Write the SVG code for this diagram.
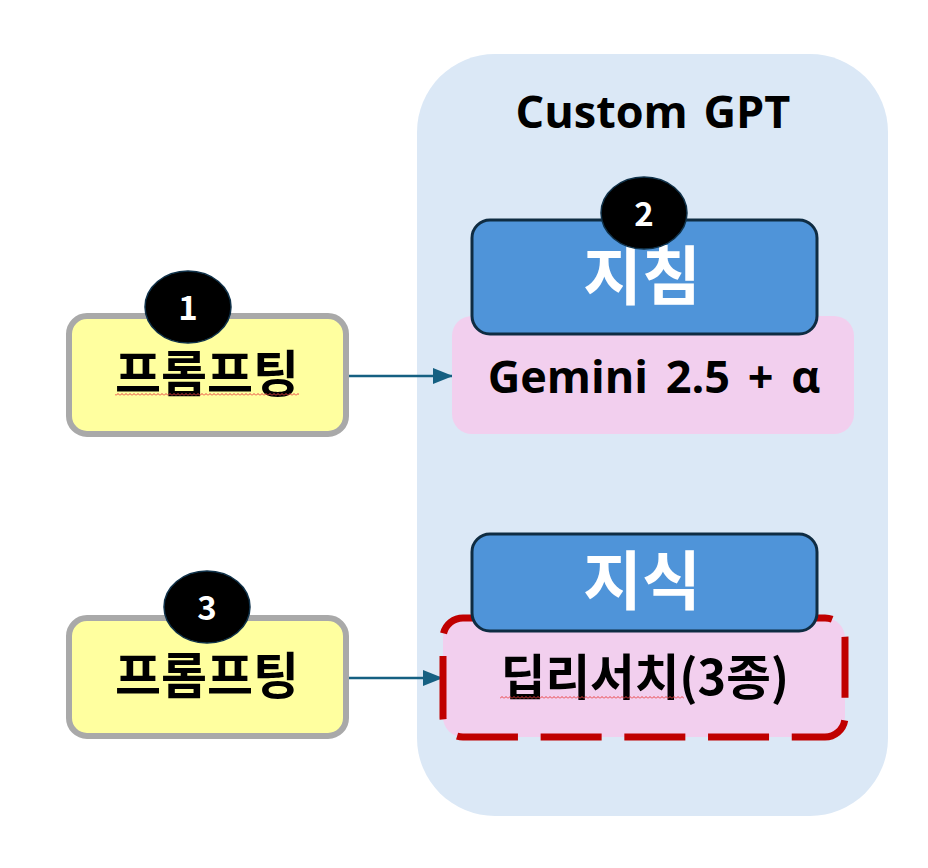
<svg xmlns="http://www.w3.org/2000/svg" width="928" height="868" viewBox="0 0 928 868">
<style>
text{font-family:"Noto Sans CJK KR","Open Sans",sans-serif;text-anchor:middle;font-weight:700;fill:#000}
.l{font-family:"Open Sans",sans-serif}
.y{fill:#ffff9f;stroke:#a9a9a9;stroke-width:6}
.b{fill:#4f94d9;stroke:#0f2c42;stroke-width:3}
.p{fill:#f2cfee}
.c{fill:#000;stroke:#10324a;stroke-width:1.5}
.n{font-size:33px;fill:#fff}
.w{font-size:64px;fill:#fff}
.t{font-size:50px}
</style>
<defs>
<marker id="a" markerUnits="userSpaceOnUse" markerWidth="20" markerHeight="16" refX="20" refY="8" orient="auto"><path d="M0 0L20 8L0 16z" fill="#156082"/></marker>
<pattern id="sq" width="4" height="3" patternUnits="userSpaceOnUse" x="0" y="0"><path d="M0 2.5L2 .5L4 2.5" fill="none" stroke="#e84040" stroke-width="1"/></pattern>
</defs>
<rect width="928" height="868" fill="#fff"/>
<g id="panel"><rect x="417" y="54" width="471" height="762" rx="78" fill="#dbe8f6"/><text class="l" x="653" y="128" font-size="45" word-spacing="4">Custom GPT</text></g>
<g id="connectors" fill="none" stroke="#156082" stroke-width="2.5"><path d="M347 376H453" marker-end="url(#a)"/><path d="M347 678H443" marker-end="url(#a)"/></g>
<g id="prompt1"><rect class="y" x="69" y="316" width="277" height="118" rx="18"/><text class="t" x="207" y="392">프롬프팅</text><rect x="115" y="393" width="184" height="3" fill="url(#sq)"/></g>
<g id="badge1"><ellipse class="c" cx="188" cy="307" rx="43" ry="36"/><text class="n" x="188" y="320">1</text></g>
<g id="gemini"><rect class="p" x="452" y="316" width="402" height="118" rx="20"/><text class="l" x="654" y="393" font-size="45" word-spacing="6">Gemini 2.5 + α</text></g>
<g id="guideline"><rect class="b" x="472" y="220" width="345" height="114" rx="18"/><text class="w" x="642" y="299">지침</text></g>
<g id="badge2"><ellipse class="c" cx="644" cy="213" rx="43" ry="36"/><text class="n" x="644" y="226">2</text></g>
<g id="prompt3"><rect class="y" x="69" y="618" width="277" height="118" rx="18"/><text class="t" x="207" y="694">프롬프팅</text></g>
<g id="badge3"><ellipse class="c" cx="207" cy="607" rx="43" ry="36"/><text class="n" x="207" y="620">3</text></g>
<g id="research"><path d="M443 717V638A20 20 0 0 1 463 618H825A20 20 0 0 1 845 638V717A20 20 0 0 1 825 737H463A20 20 0 0 1 443 717Z" fill="#f2cfee" stroke="#c00000" stroke-width="7" stroke-dasharray="61 22.7"/><text x="645" y="695" font-size="48.5">딥리서치(3종)</text><rect x="500" y="696" width="184" height="3" fill="url(#sq)"/></g>
<g id="knowledge"><rect class="b" x="472" y="534" width="345" height="97" rx="18"/><text class="w" x="642" y="604">지식</text></g>
</svg>
